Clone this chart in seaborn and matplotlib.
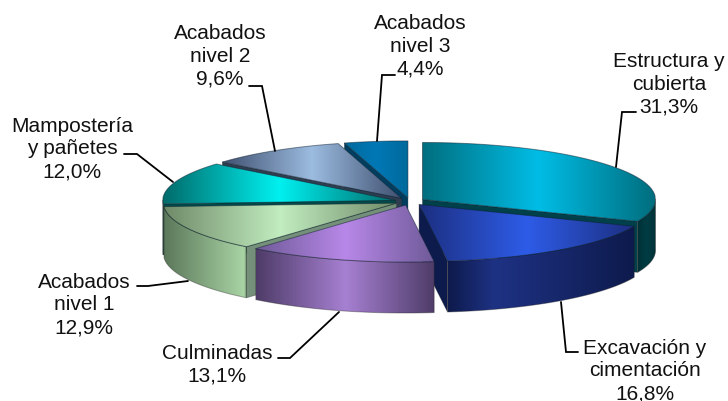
import numpy as np
import matplotlib
matplotlib.use("Agg")
import matplotlib.pyplot as plt
from matplotlib.colors import LinearSegmentedColormap
from matplotlib.patches import Polygon
import seaborn as sns

labels = ["Estructura y\ncubierta\n31,3%", "Excavación y\ncimentación\n16,8%", "Culminadas\n13,1%",
          "Acabados\nnivel 1\n12,9%", "Mampostería\ny pañetes\n12,0%", "Acabados\nnivel 2\n9,6%",
          "Acabados\nnivel 3\n4,4%"]
values = [31.3, 16.8, 13.1, 12.9, 12.0, 9.6, 4.4]

top_edge = ["#006E7E", "#1C2F80", "#6E5A98", "#6F8A68", "#006B6B", "#3F5070", "#006A9C"]
top_mid = ["#00BDE6", "#2E5CE8", "#B888E8", "#C2EDC0", "#00F0F0", "#9CBCE0", "#0078B6"]
wall_edge = ["#003238", "#0E1A4C", "#4E3C68", "#5C785A", "#5C785A", "#2E3E50", "#003E60"]
wall_mid = ["#003C44", "#1E3284", "#A680D2", "#A8D4A4", "#5C785A", "#3A4C60", "#004A70"]
wall_peak = [0.5, 0.25, 0.5, 0.97, 0.5, 0.5, 0.5]
radial = ["#00404A", "#0D1A4C", "#3E3050", "#74907A", "#004A4A", "#2E3E50", "#003E60"]
label_x = [669, 645, 217, 84, 72, 220, 420]
label_y = [84, 371, 365, 305, 149, 56, 46]
leaders = [[(616, 168), (622, 113), (636, 113)], [(561, 303), (566, 353), (578, 353)],
           [(339, 313), (290, 359), (278, 359)], [(188, 282), (148, 287), (137, 287)],
           [(173, 183), (137, 155), (124, 155)], [(275, 152), (262, 87), (249, 87)],
           [(377, 142), (382, 76), (395, 76)]]
paint_order = [6, 5, 4, 0, 3, 1, 2]

CX, CY, RX, RY, DEPTH, EXPLODE = 410, 202.5, 233, 57, 51, 15

sns.set_theme(style="white")
plt.rcParams["font.family"] = ["Liberation Sans", "DejaVu Sans"]
fig = plt.figure(figsize=(7.28, 4.02), dpi=100)
ax = fig.add_axes([0, 0, 1, 1])
ax.set_xlim(0, 728)
ax.set_ylim(402, 0)
ax.axis("off")

fractions = np.array(values) / np.sum(values)
bounds = np.concatenate([[0], np.cumsum(fractions)]) * 2 * np.pi
z = [2]


def gradient_face(pts, edge, mid, peak=0.5, line="#20202060"):
    pts = np.asarray(pts)
    cmap = LinearSegmentedColormap.from_list("g", [(0, edge), (peak, mid), (1, edge)])
    x0, x1, y0, y1 = pts[:, 0].min(), pts[:, 0].max(), pts[:, 1].min(), pts[:, 1].max()
    im = ax.imshow(np.linspace(0, 1, 256)[None, :], cmap=cmap, extent=(x0, x1, y1, y0),
                   aspect="auto", zorder=z[0], interpolation="bilinear")
    clip = Polygon(pts, closed=True, transform=ax.transData, fc="none", ec="none")
    ax.add_patch(clip)
    im.set_clip_path(clip)
    ax.add_patch(Polygon(pts, closed=True, fc="none", ec=line, lw=0.7, zorder=z[0] + 0.5))
    z[0] += 1


for i in paint_order:
    a0, a1 = bounds[i], bounds[i + 1]
    mid = (a0 + a1) / 2
    ax0 = CX + EXPLODE * np.sin(mid)
    ay0 = CY - EXPLODE * np.cos(mid) * RY / RX
    pt = lambda a: (ax0 + RX * np.sin(a), ay0 - RY * np.cos(a))
    down = lambda p: (p[0], p[1] + DEPTH)
    apex = (ax0, ay0)
    for ang, visible in ((a0, np.sin(a0) < 0), (a1, np.sin(a1) > 0)):
        if visible:
            q = pt(ang)
            ax.add_patch(Polygon([apex, q, down(q), down(apex)], closed=True, fc=radial[i],
                                 ec="#20202060", lw=0.6, zorder=z[0]))
            z[0] += 1
    lo, hi = max(a0, np.pi / 2), min(a1, 3 * np.pi / 2)
    if hi > lo:
        arc = [pt(a) for a in np.linspace(lo, hi, 80)]
        gradient_face(arc + [down(p) for p in arc[::-1]], wall_edge[i], wall_mid[i], wall_peak[i])
    arc = [pt(a) for a in np.linspace(a0, a1, 120)]
    gradient_face([apex] + arc, top_edge[i], top_mid[i], line="#10203080")

for lab, x, y, path in zip(labels, label_x, label_y, leaders):
    ax.text(x, y, lab, ha="center", va="center", fontsize=15, color="#111111",
            linespacing=1.25, zorder=500)
    xs, ys = zip(*path)
    ax.plot(xs, ys, color="black", lw=1.3, zorder=400, solid_joinstyle="miter")

ax.set_xlim(0, 728)
ax.set_ylim(402, 0)
fig.savefig("out.png", dpi=100, facecolor="white")
